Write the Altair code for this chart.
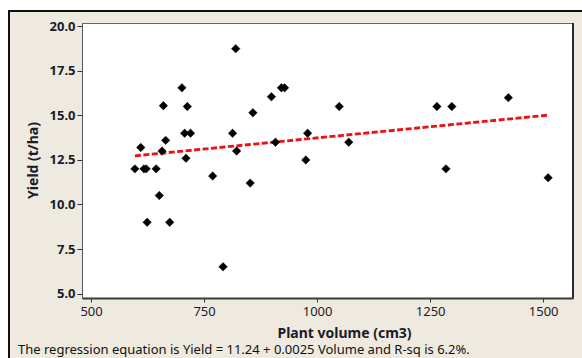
import altair as alt
import pandas as pd

# Plant volume (cm3) and yield (t/ha) for each plot
volume = [597, 610, 617, 622, 624, 644, 651, 657, 660, 665, 674, 701, 707, 710,
          713, 720, 769, 792, 813, 820, 822, 852, 858, 899, 908, 921, 928, 975,
          979, 1049, 1070, 1265, 1285, 1298, 1423, 1511]
yield_t_ha = [12.0, 13.2, 12.0, 12.0, 9.0, 12.0, 10.5, 13.0, 15.55, 13.6, 9.0,
              16.55, 14.0, 12.6, 15.5, 14.0, 11.6, 6.5, 14.0, 18.75, 13.0, 11.2,
              15.15, 16.05, 13.5, 16.55, 16.55, 12.5, 14.0, 15.5, 13.5, 15.5,
              12.0, 15.5, 16.0, 11.5]

# Fitted regression
intercept = 11.24
slope = 0.0025
r_sq = 6.2

x_ticks = [500, 750, 1000, 1250, 1500]
y_ticks = [5.0, 7.5, 10.0, 12.5, 15.0, 17.5, 20.0]

points = pd.DataFrame({"volume": volume, "yield": yield_t_ha})
fit_x = [min(volume), max(volume)]
fit = pd.DataFrame({"volume": fit_x, "yield": [intercept + slope * v for v in fit_x]})
footer_text = (f"The regression equation is Yield = {intercept:.2f} + {slope:.4f} "
               f"Volume and R-sq is {r_sq:.1f}%.")
footer = pd.DataFrame({"label": [footer_text]})

W, H = 491, 275
FONT = "Noto Sans"
INK = "#1b1b2a"

x_scale = alt.Scale(domain=[480, 1566], nice=False, zero=False)
y_scale = alt.Scale(domain=[4.75, 20.19], nice=False, zero=False)

x_axis = alt.Axis(values=x_ticks, format="d", title="Plant volume (cm3)", grid=False,
                  labelFont=FONT, labelFontSize=13, labelColor=INK, labelPadding=3,
                  tickSize=4, tickColor="#333", domainColor="#3a3a3a", domainWidth=2,
                  titleFont=FONT, titleFontSize=14, titleFontWeight="bold", titleColor=INK,
                  titleX=262, titleY=35, titleBaseline="middle", titleAnchor="middle",
                  zindex=1)
y_axis = alt.Axis(values=y_ticks, format=".1f", title="Yield (t/ha)", grid=False,
                  labelFont=FONT, labelFontSize=13, labelFontWeight="bold", labelColor=INK,
                  labelPadding=2, tickSize=5, tickColor="#333", domainColor="#555",
                  domainWidth=1, titleFont=FONT, titleFontSize=14, titleFontWeight="bold",
                  titleColor=INK, titleX=-49, titleY=137, titleBaseline="middle",
                  titleAnchor="middle", zindex=1)

scatter = alt.Chart(points).mark_point(
    shape="diamond", filled=True, size=72, color="black", opacity=1,
    stroke="black", strokeWidth=0.5
).encode(
    x=alt.X("volume:Q", scale=x_scale, axis=x_axis),
    y=alt.Y("yield:Q", scale=y_scale, axis=y_axis),
)

fit_line = alt.Chart(fit).mark_line(
    color="#ee1111", strokeWidth=2.8, strokeDash=[6, 2.5]
).encode(
    x=alt.X("volume:Q", scale=x_scale),
    y=alt.Y("yield:Q", scale=y_scale),
)

one = alt.Data(values=[{"k": 0}])

# Window frame: white margin, dark edge, and the plot's darker right edge
frame = [
    alt.Chart(one).mark_rect(color="white").encode(
        x=alt.value(-82), x2=alt.value(W + 9), y=alt.value(-23), y2=alt.value(-13)),
    alt.Chart(one).mark_rect(color="white").encode(
        x=alt.value(-82), x2=alt.value(-74), y=alt.value(-23), y2=alt.value(H + 60)),
    alt.Chart(one).mark_rect(color="#111").encode(
        x=alt.value(-74), x2=alt.value(W + 9), y=alt.value(-13), y2=alt.value(-11)),
    alt.Chart(one).mark_rect(color="#111").encode(
        x=alt.value(-74), x2=alt.value(-72), y=alt.value(-13), y2=alt.value(H + 60)),
    alt.Chart(one).mark_rule(color="#2a2a2a", strokeWidth=2).encode(
        x=alt.value(W), y=alt.value(0), y2=alt.value(H)),
]

caption = alt.Chart(footer).mark_text(
    align="left", baseline="middle", font=FONT, fontSize=13, color="#111"
).encode(x=alt.value(-64), y=alt.value(327), text="label:N")

chart = alt.layer(*frame, fit_line, scatter, caption).properties(
    width=W, height=H,
    padding={"left": 82, "top": 23, "right": 9, "bottom": 60},
    autosize=alt.AutoSizeParams(type="none"),
    background="#EEEAE0",
).configure_view(fill="white", stroke="#666", strokeWidth=1)

chart.save("out.html", embed_options={"renderer": "svg", "actions": False})
